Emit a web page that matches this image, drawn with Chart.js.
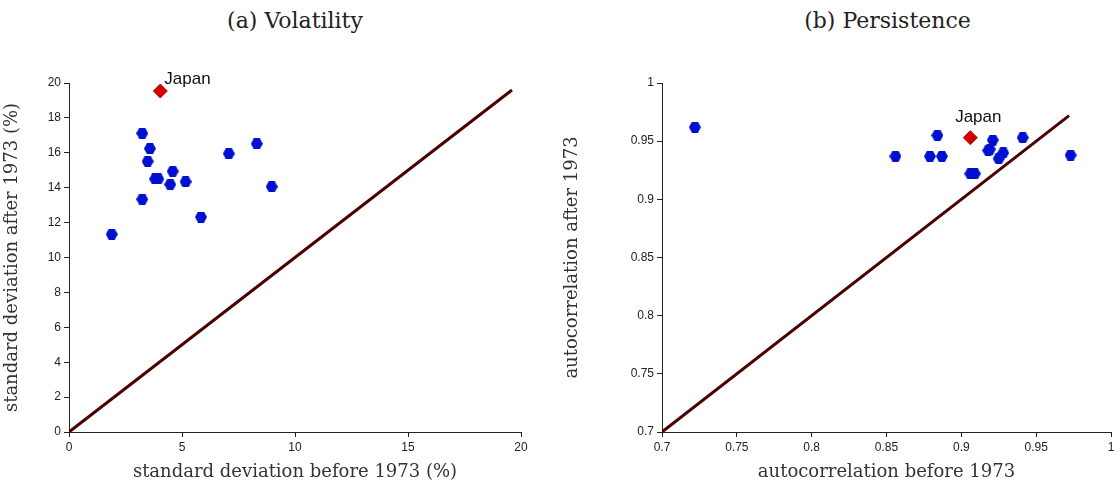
<!DOCTYPE html>
<html>
<head>
<meta charset="utf-8">
<script src="https://cdn.jsdelivr.net/npm/chart.js@4"></script>
<style>
body { margin: 0; background: #fff; width: 1119px; height: 485px; position: relative; overflow: hidden; }
canvas { position: absolute; top: 0; }
.ttl { position: absolute; top: 8px; font: 22px "DejaVu Serif", serif; color: #222; text-align: center; }
</style>
</head>
<body>
<div class="ttl" style="left:69px;width:452px">(a) Volatility</div>
<div class="ttl" style="left:662px;width:451px">(b) Persistence</div>
<div style="position:absolute;left:0;top:0;width:540px;height:485px"><canvas id="c1"></canvas></div>
<div style="position:absolute;left:560px;top:0;width:559px;height:485px"><canvas id="c2"></canvas></div>
<script>
// Volatilidade: desvio padrão antes / depois de 1973 (%)
const volBefore = [3.24, 3.58, 3.48, 4.59, 3.81, 3.95, 4.48, 5.16, 3.24, 5.84, 1.89, 7.07, 8.31, 8.97];
const volAfter  = [17.12, 16.24, 15.51, 14.94, 14.50, 14.50, 14.19, 14.34, 13.34, 12.32, 11.33, 15.95, 16.52, 14.06];
const volJapan  = [4.04, 19.54];
const volTicksX = [0, 5, 10, 15, 20];
const volTicksY = [0, 2, 4, 6, 8, 10, 12, 14, 16, 18, 20];

// Persistência: autocorrelação antes / depois de 1973
const perBefore = [0.722, 0.856, 0.879, 0.887, 0.884, 0.906, 0.909, 0.921, 0.919, 0.918, 0.928, 0.925, 0.941, 0.973];
const perAfter  = [0.962, 0.937, 0.937, 0.937, 0.955, 0.922, 0.922, 0.951, 0.943, 0.942, 0.940, 0.935, 0.953, 0.938];
const perJapan  = [0.906, 0.953];
const perTicksX = [0.7, 0.75, 0.8, 0.85, 0.9, 0.95, 1];
const perTicksY = [0.7, 0.75, 0.8, 0.85, 0.9, 0.95, 1];

// marcador hexagonal
const hex = document.createElement('canvas');
hex.width = 12; hex.height = 11;
const hc = hex.getContext('2d');
hc.fillStyle = '#0010d0';
hc.beginPath();
hc.moveTo(0, 5.5); hc.lineTo(3, 0); hc.lineTo(9, 0); hc.lineTo(12, 5.5); hc.lineTo(9, 11); hc.lineTo(3, 11);
hc.closePath(); hc.fill();

const labelPlugin = {
    id: 'japanLabel',
    afterDatasetsDraw(chart) {
        const p = chart.getDatasetMeta(1).data[0];
        const ctx = chart.ctx;
        ctx.save();
        ctx.font = '17px "Liberation Sans", Arial, sans-serif';
        ctx.fillStyle = '#111';
        ctx.textBaseline = 'bottom';
        if (chart.canvas.id === 'c1') { ctx.textAlign = 'left'; ctx.fillText('Japan', p.x + 4, p.y - 3); }
        else { ctx.textAlign = 'center'; ctx.fillText('Japan', p.x + 8, p.y - 12); }
        ctx.restore();
    }
};

function axis(min, max, ticks, label, fit) {
    return {
        type: 'linear', min, max,
        afterBuildTicks: s => { s.ticks = ticks.map(v => ({ value: v })); },
        afterFit: fit,
        grid: { drawOnChartArea: false, tickLength: 5, color: '#222' },
        border: { color: '#222', width: 1 },
        ticks: {
            color: '#222', font: { size: 12, family: '"Liberation Sans", Arial, sans-serif' },
            autoSkip: false, maxRotation: 0, callback: v => String(+v.toFixed(2))
        },
        title: { display: true, text: label, color: '#333', font: { size: 18, family: '"DejaVu Serif", serif' }, padding: 2 }
    };
}

function makeChart(id, xs, ys, jp, line, xr, yr, xt, yt, xl, yl, yw, padRight) {
    new Chart(document.getElementById(id), {
        type: 'scatter',
        data: {
            datasets: [
                { data: xs.map((x, i) => ({ x, y: ys[i] })), pointStyle: hex, order: 1 },
                { data: [{ x: jp[0], y: jp[1] }], pointStyle: 'rectRot', pointRadius: 7, backgroundColor: '#d00000', borderColor: '#d00000', order: 0 },
                { type: 'line', data: line, borderColor: '#4a0000', borderWidth: 3, pointRadius: 0, order: 2 }
            ]
        },
        options: {
            responsive: true, maintainAspectRatio: false, animation: false,
            layout: { padding: { top: 83, right: padRight, left: 0, bottom: 0 } },
            plugins: { legend: { display: false }, tooltip: { enabled: false } },
            scales: {
                x: axis(xr[0], xr[1], xt, xl, s => { s.height = 53; }),
                y: axis(yr[0], yr[1], yt, yl, s => { s.width = yw; })
            }
        },
        plugins: [labelPlugin]
    });
}

makeChart('c1', volBefore, volAfter, volJapan, [{ x: 0, y: 0 }, { x: 19.6, y: 19.6 }],
    [0, 20], [0, 20], volTicksX, volTicksY,
    'standard deviation before 1973 (%)', 'standard deviation after 1973 (%)', 69, 19);
makeChart('c2', perBefore, perAfter, perJapan, [{ x: 0.7, y: 0.7 }, { x: 0.972, y: 0.972 }],
    [0.7, 1], [0.7, 1], perTicksX, perTicksY,
    'autocorrelation before 1973', 'autocorrelation after 1973', 102, 0);
</script>
</body>
</html>
